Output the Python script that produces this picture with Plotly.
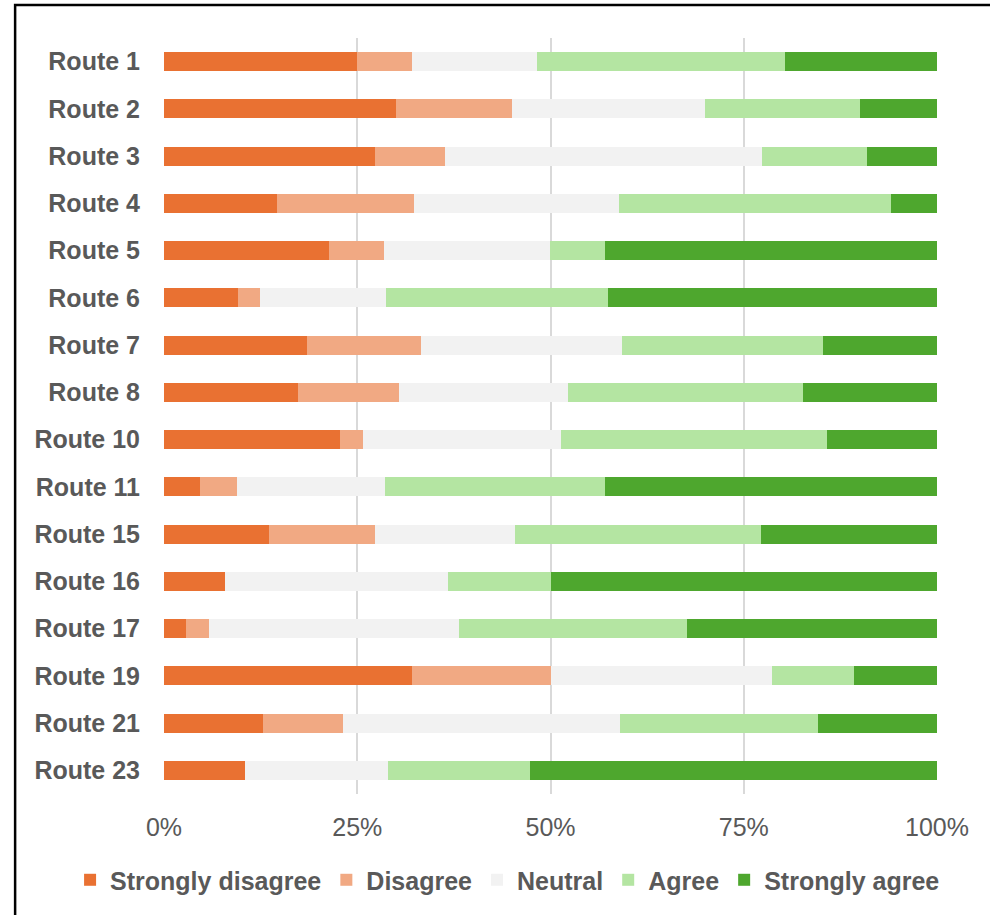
import plotly.graph_objects as go

routes = ["Route 1", "Route 2", "Route 3", "Route 4", "Route 5", "Route 6", "Route 7", "Route 8",
          "Route 10", "Route 11", "Route 15", "Route 16", "Route 17", "Route 19", "Route 21", "Route 23"]

strongly_disagree = [25.0, 30.0, 27.3, 14.6, 21.4, 9.6, 18.5, 17.3, 22.8, 4.7, 13.6, 7.9, 2.8, 32.1, 12.8, 10.5]
disagree = [7.1, 15.0, 9.0, 17.7, 7.1, 2.8, 14.8, 13.1, 2.9, 4.8, 13.7, 0.0, 3.0, 17.9, 10.3, 0.0]
neutral = [16.1, 25.0, 41.0, 26.5, 21.4, 16.3, 26.0, 21.8, 25.7, 19.1, 18.1, 28.9, 32.4, 28.6, 35.9, 18.5]
agree = [32.1, 20.0, 13.6, 35.3, 7.2, 28.8, 25.9, 30.5, 34.4, 28.5, 31.8, 13.2, 29.4, 10.7, 25.6, 18.3]
strongly_agree = [19.7, 10.0, 9.1, 5.9, 42.9, 42.5, 14.8, 17.3, 14.2, 42.9, 22.8, 50.0, 32.4, 10.7, 15.4, 52.7]

series_names = ["Strongly disagree", "Disagree", "Neutral", "Agree", "Strongly agree"]
series_values = [strongly_disagree, disagree, neutral, agree, strongly_agree]
series_colors = ["#E97132", "#F1A983", "#F2F2F2", "#B4E5A2", "#4EA72E"]

x_tick_values = [0, 25, 50, 75, 100]
x_tick_labels = ["0%", "25%", "50%", "75%", "100%"]

FONT = "Arial, 'Liberation Sans', sans-serif"
TEXT = "#595959"

fig = go.Figure()
for name, vals, col in zip(series_names, series_values, series_colors):
    fig.add_trace(go.Bar(
        y=routes, x=vals, name=name, orientation="h",
        marker=dict(color=col, line=dict(width=0)),
    ))

fig.update_layout(
    barmode="stack",
    bargap=0.6,
    width=990, height=915,
    margin=dict(l=164, r=52.5, t=38, b=121, autoexpand=False),
    paper_bgcolor="white", plot_bgcolor="white",
    font=dict(family=FONT, color=TEXT, size=25),
    showlegend=True,
    legend=dict(
        orientation="h", x=-0.1215, xanchor="left", y=-0.1138, yanchor="middle",
        font=dict(family=FONT, size=25, color=TEXT, weight="bold"),
        traceorder="normal", bgcolor="rgba(0,0,0,0)",
    ),
    shapes=[dict(
        type="rect", xref="paper", yref="paper",
        x0=-0.1926, x1=1.12, y0=-0.22, y1=1.0437,
        line=dict(color="black", width=2.5), fillcolor="rgba(0,0,0,0)", layer="above",
    )],
)

fig.update_xaxes(
    range=[0, 100], tickvals=x_tick_values, ticktext=x_tick_labels,
    showgrid=True, gridcolor="#D9D9D9", gridwidth=1.5,
    zeroline=False, showline=False, ticks="", automargin=False,
    ticklabelstandoff=16,
    tickfont=dict(family=FONT, size=25, color=TEXT),
)
fig.update_yaxes(
    categoryorder="array", categoryarray=routes, autorange="reversed",
    showgrid=False, zeroline=False, showline=False, ticks="", automargin=False,
    ticklabelstandoff=23,
    tickfont=dict(family=FONT, size=25, color=TEXT, weight="bold"),
)

fig.write_html("out.html")
